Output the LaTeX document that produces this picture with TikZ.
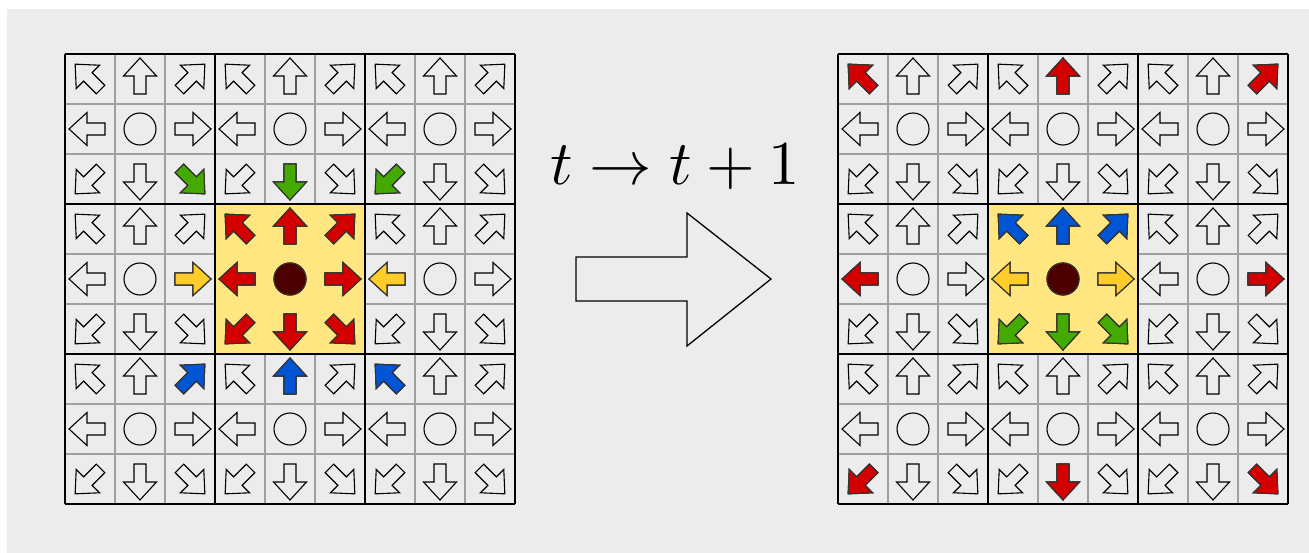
\documentclass[tikz,border=0pt]{standalone}
\usetikzlibrary{calc}
\definecolor{bg}{HTML}{ECECEC}
\definecolor{cellline}{HTML}{A0A0A0}
\definecolor{hl}{HTML}{FFE680}
\definecolor{cred}{HTML}{D40000}
\definecolor{cgreen}{HTML}{44AA00}
\definecolor{cblue}{HTML}{0055D4}
\definecolor{cyellow}{HTML}{FFCC2A}
\definecolor{cdark}{HTML}{4D0000}
\tikzset{
  arr/.pic={\path[pic actions] (-15,-6) -- (3,-6) -- (3,-16.5) -- (21,0) -- (3,16.5) -- (3,6) -- (-15,6) -- cycle;},
  outl/.style={draw=black, fill=bg, line width=1.1pt, line join=miter},
  cola/.style={draw=black!80, fill=#1, line width=1.1pt, line join=miter},
  thinline/.style={draw=cellline, line width=1.3pt},
  blockline/.style={draw=black, line width=1.4pt},
}
\begin{document}
\begin{tikzpicture}[x=1pt,y=-1pt]
\useasboundingbox (0,0) rectangle (1309,553);
\fill[white] (0,0) rectangle (1309,553);
\fill[bg] (7,9) rectangle (1309,553);
\foreach \gx in {65,838} {
  \foreach \i in {1,2,4,5,7,8} {
    \draw[thinline] ({\gx+50*\i},54) -- ({\gx+50*\i},504);
    \draw[thinline] (\gx,{54+50*\i}) -- ({\gx+450},{54+50*\i});
  }
  % highlighted centre block
  \fill[hl] ({\gx+150},204) rectangle ({\gx+300},354);
  \foreach \i in {0,3,6,9} {
    \draw[blockline] ({\gx+50*\i},54) -- ({\gx+50*\i},504);
    \draw[blockline] (\gx,{54+50*\i}) -- ({\gx+450},{54+50*\i});
  }
  \foreach \r in {0,...,8} {
    \foreach \c in {0,...,8} {
      \pgfmathtruncatemacro\k{3*mod(\r,3)+mod(\c,3)}
      \pgfmathsetmacro\ang{{135,90,45,180,0,0,225,270,315}[\k]}
      \ifnum\k=4
        \draw[outl] ({\gx+25+50*\c},{79+50*\r}) circle[radius=16];
      \else
        \pic[outl, rotate=\ang] at ({\gx+25+50*\c},{79+50*\r}) {arr};
      \fi
    }
  }
}
% left grid coloured cells
\pic[cola=cgreen, rotate=315] at (190,179) {arr};
\pic[cola=cgreen, rotate=270] at (290,179) {arr};
\pic[cola=cgreen, rotate=225] at (390,179) {arr};
\pic[cola=cyellow, rotate=0] at (190,279) {arr};
\pic[cola=cyellow, rotate=180] at (390,279) {arr};
\pic[cola=cblue, rotate=45] at (190,379) {arr};
\pic[cola=cblue, rotate=90] at (290,379) {arr};
\pic[cola=cblue, rotate=135] at (390,379) {arr};
\pic[cola=cred, rotate=135] at (240,229) {arr};
\pic[cola=cred, rotate=90] at (290,229) {arr};
\pic[cola=cred, rotate=45] at (340,229) {arr};
\pic[cola=cred, rotate=180] at (240,279) {arr};
\pic[cola=cred, rotate=0] at (340,279) {arr};
\pic[cola=cred, rotate=225] at (240,329) {arr};
\pic[cola=cred, rotate=270] at (290,329) {arr};
\pic[cola=cred, rotate=315] at (340,329) {arr};
\draw[cola=cdark] (290,279) circle[radius=16];
% right grid coloured cells
\pic[cola=cred, rotate=135] at (863,79) {arr};
\pic[cola=cred, rotate=90] at (1063,79) {arr};
\pic[cola=cred, rotate=45] at (1263,79) {arr};
\pic[cola=cred, rotate=180] at (863,279) {arr};
\pic[cola=cred, rotate=0] at (1263,279) {arr};
\pic[cola=cred, rotate=225] at (863,479) {arr};
\pic[cola=cred, rotate=270] at (1063,479) {arr};
\pic[cola=cred, rotate=315] at (1263,479) {arr};
\pic[cola=cblue, rotate=135] at (1013,229) {arr};
\pic[cola=cblue, rotate=90] at (1063,229) {arr};
\pic[cola=cblue, rotate=45] at (1113,229) {arr};
\pic[cola=cyellow, rotate=180] at (1013,279) {arr};
\pic[cola=cyellow, rotate=0] at (1113,279) {arr};
\pic[cola=cgreen, rotate=225] at (1013,329) {arr};
\pic[cola=cgreen, rotate=270] at (1063,329) {arr};
\pic[cola=cgreen, rotate=315] at (1113,329) {arr};
\draw[cola=cdark] (1063,279) circle[radius=16];
% transition arrow and label
\draw[draw=black, fill=bg, line width=1.3pt, line join=miter]
  (576,257) -- (687,257) -- (687,213) -- (771,279) -- (687,346) -- (687,301) -- (576,301) -- cycle;
\node[anchor=base, inner sep=0pt, scale=6.25] (lab) at (675,185) {$t\to t+1$};
\end{tikzpicture}
\end{document}
